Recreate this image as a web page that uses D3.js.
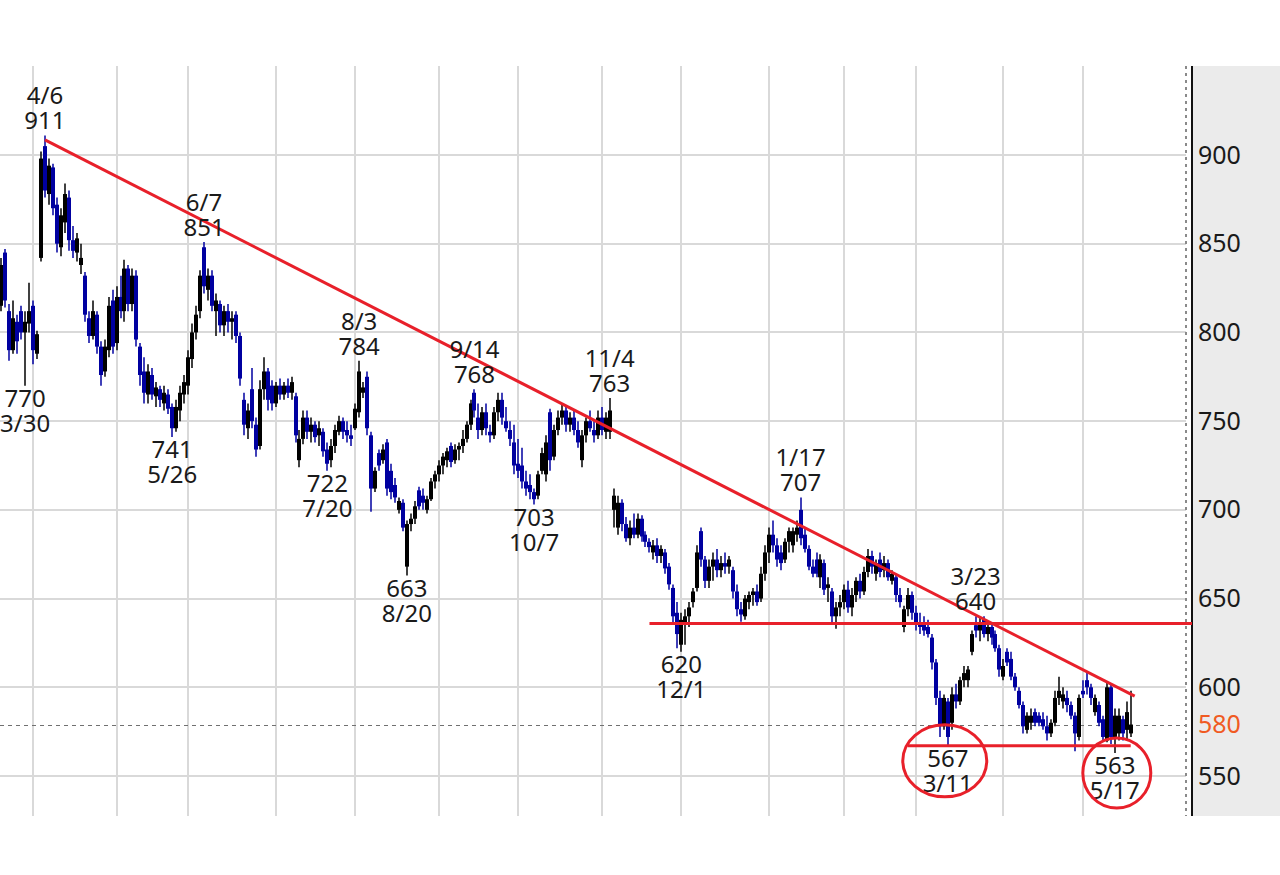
<!DOCTYPE html>
<html><head><meta charset="utf-8">
<script src="https://cdn.jsdelivr.net/npm/d3@7"></script>
<style>body{margin:0;background:#fff}svg{display:block}</style>
</head><body>
<svg id="chart" width="1280" height="875"></svg>
<script>
// ---------- data ----------
const firstDay = "2021-03-22";
const lastCalendarDay = "2022-06-30";
const marketHolidays = ["2021-04-29","2021-05-03","2021-05-04","2021-05-05","2021-07-22","2021-07-23","2021-08-09","2021-09-20","2021-09-23","2021-11-03","2021-11-23","2021-12-31","2022-01-03","2022-01-10","2022-02-11","2022-02-23","2022-03-21","2022-04-29","2022-05-03","2022-05-04","2022-05-05"];

// [open, high, low, close] per trading day
const ohlcMar21 = [[815,842,812,838],[845,847,814,818],[812,816,784,790],[790,818,788,808],[806,810,788,795],[812,815,796,800],[800,812,770,806],[805,828,800,812]];
const ohlcApr21 = [[815,818,782,790],[788,801,785,799],[842,902,840,898],[905,911,876,880],[878,898,872,894],[893,895,866,870],[872,876,845,850],[848,870,843,866],[862,884,856,878],[876,880,846,852],[852,860,842,846],[845,856,840,853],[838,850,833,842],[832,834,806,810],[808,812,794,798],[798,818,796,812],[810,812,788,792],[792,795,770,776],[778,796,775,792],[790,820,786,815],[818,824,788,792]];
const ohlcMay21 = [[794,826,790,820],[820,832,808,812],[812,841,806,836],[836,838,812,816],[816,836,812,832],[832,835,792,796],[792,794,770,776],[778,786,760,766],[765,782,760,778],[776,780,762,765],[764,772,758,769],[768,770,758,762],[760,770,756,766],[765,768,754,757],[758,760,741,746],[746,762,744,758],[756,770,750,766],[765,776,760,772]];
const ohlcJun21 = [[770,790,765,786],[785,805,780,800],[800,815,796,810],[812,835,808,832],[848,851,822,826],[824,836,818,832],[832,835,812,815],[812,822,798,818],[816,818,800,804],[804,815,798,812],[812,816,800,806],[806,812,796,808],[810,812,794,798],[798,800,770,774],[762,766,742,748],[746,760,740,756],[768,780,746,750],[748,752,730,734],[736,773,734,768],[768,786,762,778],[778,780,756,762],[770,773,756,760]];
const ohlcJul21 = [[760,772,758,770],[770,774,762,765],[765,772,762,770],[770,774,763,766],[766,775,762,772],[764,766,738,742],[728,745,724,740],[740,756,737,752],[752,756,740,744],[744,752,738,748],[748,750,738,741],[742,750,736,746],[744,746,730,733],[734,738,722,726],[728,740,724,736],[736,748,732,745],[744,753,742,750],[750,752,740,744],[745,750,738,742],[742,748,736,740]];
const ohlcAug21 = [[746,760,745,757],[755,784,752,778],[766,772,763,769],[775,778,742,746],[742,744,699,712],[712,724,710,722],[732,734,722,725],[728,737,726,734],[738,740,708,712],[722,726,706,710],[714,718,704,707],[700,707,698,705],[704,706,688,690],[668,694,663,692],[692,698,688,695],[695,705,692,702],[711,713,700,702],[708,712,700,704],[700,708,698,706],[706,718,705,716],[716,722,712,720]];
const ohlcSep21 = [[720,728,716,725],[725,732,720,730],[728,735,724,733],[736,738,724,727],[728,737,726,734],[734,738,728,736],[736,745,732,740],[740,750,738,748],[748,762,745,760],[766,768,752,756],[752,760,740,745],[745,758,742,755],[755,760,742,746],[744,748,738,742],[742,758,740,755],[755,766,750,762],[762,766,748,752],[750,758,744,746],[745,750,736,740],[738,748,720,725]];
const ohlcOct21 = [[726,740,718,722],[725,735,712,716],[716,722,708,712],[714,720,706,710],[710,712,703,706],[708,722,706,720],[722,735,720,732],[720,742,716,738],[755,757,722,728],[730,748,728,745],[745,756,742,752],[752,760,748,756],[756,758,744,748],[748,755,744,752],[752,756,742,745],[745,750,735,738],[728,745,724,742],[742,752,738,750],[750,756,744,746],[745,750,738,742],[742,756,740,752]];
const ohlcNov21 = [[752,758,742,745],[744,755,740,752],[744,763,740,756],[700,712,690,708],[690,708,686,704],[704,706,688,692],[692,696,682,684],[684,694,680,690],[690,698,684,686],[686,698,684,695],[695,697,682,685],[686,688,679,682],[682,684,676,679],[676,683,672,680],[680,684,670,674],[674,680,670,678],[676,678,664,667],[668,670,655,658],[656,658,636,640],[642,648,622,630]];
const ohlcDec21 = [[624,642,620,638],[636,644,624,640],[640,648,634,645],[648,656,645,654],[656,680,654,676],[688,690,668,672],[672,674,656,660],[660,672,656,668],[668,676,660,672],[672,678,662,666],[666,674,662,670],[670,676,664,668],[668,674,664,672],[666,668,650,654],[654,658,640,644],[644,648,637,641],[640,652,638,650],[648,654,644,652],[652,656,646,654],[654,658,646,648],[650,668,648,664],[664,680,660,676]];
const ohlcJan22 = [[676,690,670,686],[686,694,676,680],[680,684,668,672],[676,680,666,670],[672,684,670,682],[682,690,676,688],[680,690,676,688],[686,694,682,690],[700,707,680,684],[686,690,676,678],[678,680,666,668],[668,672,662,664],[672,676,662,664],[662,675,656,672],[670,672,652,655],[656,662,648,658],[654,656,636,640],[640,648,633,645],[645,652,640,648]];
const ohlcFeb22 = [[648,658,644,655],[655,660,642,645],[645,656,640,652],[652,662,648,660],[660,664,650,654],[654,668,652,665],[665,678,662,674],[674,677,664,668],[664,672,660,670],[672,676,662,665],[666,674,662,670],[670,672,660,662],[660,666,658,664],[662,664,648,652],[652,656,645,648],[634,646,631,644],[644,656,640,652],[652,654,638,642]];
const ohlcMar22 = [[642,646,632,636],[636,642,630,634],[636,640,629,632],[634,638,628,630],[628,630,610,614],[614,616,590,594],[594,598,572,578],[578,596,576,594],[592,594,567,572],[580,600,576,596],[596,602,588,592],[592,606,590,604],[604,612,600,608],[604,612,600,610],[620,632,618,630],[635,640,628,632],[632,640,626,636],[638,640,628,630],[630,636,626,634],[634,636,624,628],[630,632,620,622],[622,624,606,610]];
const ohlcApr22 = [[606,616,604,612],[620,622,612,614],[616,620,604,606],[606,608,598,600],[598,600,588,590],[590,592,574,578],[576,586,574,584],[580,588,576,584],[586,588,578,580],[584,586,578,580],[582,586,576,578],[578,584,570,574],[574,582,572,580],[580,598,578,594],[594,606,590,598],[592,600,588,596],[594,598,586,590],[590,592,582,584],[584,586,564,574],[572,596,570,594]];
const ohlcMay22 = [[598,604,594,596],[604,608,596,600],[600,602,590,594],[586,596,584,594],[590,592,578,580],[582,584,570,572],[570,603,569,600],[600,602,568,572],[572,588,563,584],[574,588,570,584],[582,584,570,574],[576,592,570,586],[574,598,572,579]];

const priceTicks = [550, 600, 650, 700, 750, 800, 850, 900];
const currentPrice = 579;
const currentPriceLabel = "580";

// peaks / troughs labelled on the chart
const highMarks = [["2021-04-06",911],["2021-06-07",851],["2021-08-03",784],["2021-09-14",768],["2021-11-04",763],["2022-01-17",707],["2022-03-23",640]];
const lowMarks  = [["2021-03-30",770],["2021-05-26",741],["2021-07-20",722],["2021-08-20",663],["2021-10-07",703],["2021-12-01",620],["2022-03-11",567],["2022-05-17",563]];

// drawn lines: [startDate, startValue, endDate, endValue]
const trendLine      = ["2021-04-06", 908.5, "2022-05-24", 595];
const resistanceLine = ["2021-11-18", 636, null, 636];
const supportLine    = ["2022-02-25", 567, "2022-05-23", 567];
const circledLows    = ["2022-03-11", "2022-05-17"];

// ---------- layout ----------
const W = 1280, H = 875;
const plot = {left: 0, right: 1186, top: 66, bottom: 816};
const axisX = 1192;
const svg = d3.select("#chart");
const fmt = d3.timeFormat("%Y-%m-%d");
const parse = d3.timeParse("%Y-%m-%d");
const mdFmt = d3.timeFormat("%-m/%-d");

const holidaySet = new Set(marketHolidays);
const tradingDays = d3.timeDay.range(parse(firstDay), parse(lastCalendarDay))
  .filter(d => d.getDay() !== 0 && d.getDay() !== 6 && !holidaySet.has(fmt(d)));
const dayIndex = new Map(tradingDays.map((d, i) => [fmt(d), i]));

const ohlc = [].concat(ohlcMar21, ohlcApr21, ohlcMay21, ohlcJun21, ohlcJul21, ohlcAug21, ohlcSep21, ohlcOct21, ohlcNov21, ohlcDec21, ohlcJan22, ohlcFeb22, ohlcMar22, ohlcApr22, ohlcMay22);
const candles = ohlc.map((v, i) => ({date: tradingDays[i], i, o: v[0], h: v[1], l: v[2], c: v[3]}));
const lastIdx = candles.length - 1;

const x = d3.scaleLinear().domain([-0.3, 297.9]).range([plot.left, plot.right]);
const y = d3.scaleLinear().domain([550, 900]).range([776, 155]);
const xd = s => x(dayIndex.get(s));

const FONT = "'Noto Sans', 'DejaVu Sans', sans-serif";
const RED = "#e8202a";

svg.append("rect").attr("width", W).attr("height", H).attr("fill", "#fff");

// grid
const monthStarts = tradingDays.filter((d, i) => i > 0 && i <= lastIdx && d.getMonth() !== tradingDays[i-1].getMonth())
  .map(d => dayIndex.get(fmt(d))).filter(i => x(i) > plot.left && x(i) < plot.right);
const grid = svg.append("g").attr("stroke", "#d9d9d9").attr("stroke-width", 2);
grid.selectAll("line.v").data(monthStarts).join("line")
  .attr("x1", d => Math.round(x(d))).attr("x2", d => Math.round(x(d)))
  .attr("y1", plot.top).attr("y2", plot.bottom);
grid.selectAll("line.h").data(priceTicks).join("line")
  .attr("x1", plot.left).attr("x2", plot.right)
  .attr("y1", d => Math.round(y(d))).attr("y2", d => Math.round(y(d)));

// current price dashed line
svg.append("line").attr("x1", plot.left).attr("x2", plot.right)
  .attr("y1", Math.round(y(currentPrice)) + 0.5).attr("y2", Math.round(y(currentPrice)) + 0.5)
  .attr("stroke", "#707070").attr("stroke-width", 1.2).attr("stroke-dasharray", "4,4");

// axis panel
svg.append("rect").attr("x", axisX + 1).attr("y", plot.top).attr("width", W - axisX - 1)
  .attr("height", plot.bottom - plot.top).attr("fill", "#ebebeb");
svg.append("line").attr("x1", axisX).attr("x2", axisX).attr("y1", plot.top).attr("y2", plot.bottom)
  .attr("stroke", "#111").attr("stroke-width", 2);
svg.append("line").attr("x1", plot.right).attr("x2", plot.right).attr("y1", plot.top).attr("y2", plot.bottom)
  .attr("stroke", "#8a8a8a").attr("stroke-width", 2).attr("stroke-dasharray", "3,4");

const yAxis = d3.axisRight(y).tickValues(priceTicks).tickSize(0).tickPadding(6);
const ag = svg.append("g").attr("transform", `translate(${axisX},0)`).call(yAxis);
ag.select(".domain").remove();
ag.selectAll("text").attr("font-family", FONT).attr("font-size", 25).attr("fill", "#1a1a1a");
svg.append("text").attr("x", axisX + 6).attr("y", y(currentPrice)).attr("dy", "0.32em")
  .attr("font-family", FONT).attr("font-size", 25).attr("fill", "#f05a22").text(currentPriceLabel);

// candles
const UP = "#000000", DOWN = "#0000a0";
const cg = svg.append("g");
const cs = cg.selectAll("g").data(candles).join("g")
  .attr("fill", d => d.c >= d.o ? UP : DOWN).attr("stroke", d => d.c >= d.o ? UP : DOWN);
cs.append("line")
  .attr("x1", d => Math.round(x(d.i))).attr("x2", d => Math.round(x(d.i)))
  .attr("y1", d => y(d.h)).attr("y2", d => y(d.l)).attr("stroke-width", 1.5);
cs.append("rect")
  .attr("stroke", "none")
  .attr("x", d => Math.round(x(d.i)) - 2).attr("width", 4)
  .attr("y", d => y(Math.max(d.o, d.c)))
  .attr("height", d => Math.max(1.5, Math.abs(y(d.o) - y(d.c))));

// red annotation lines
function drawLine(l, endX) {
  svg.append("line")
    .attr("x1", xd(l[0])).attr("y1", y(l[1]))
    .attr("x2", l[2] ? xd(l[2]) : endX).attr("y2", y(l[3]))
    .attr("stroke", RED).attr("stroke-width", 3).attr("stroke-linecap", "butt");
}
drawLine(trendLine);
drawLine(resistanceLine, axisX);
drawLine(supportLine);

// labels
const lab = svg.append("g").attr("font-family", FONT).attr("font-size", 24)
  .attr("fill", "#1a1a1a").attr("text-anchor", "middle");
highMarks.forEach(([d, v]) => {
  const cx = xd(d), cy = y(v);
  lab.append("text").attr("x", cx).attr("y", cy - 31).text(mdFmt(parse(d)));
  lab.append("text").attr("x", cx).attr("y", cy - 6).text(v);
});
lowMarks.forEach(([d, v]) => {
  const cx = xd(d), cy = y(v);
  lab.append("text").attr("x", cx).attr("y", cy + 21).text(v);
  lab.append("text").attr("x", cx).attr("y", cy + 46).text(mdFmt(parse(d)));
});

// circles around the two latest lows
const circleShape = [{dx: -3, dy: 15, rx: 42, ry: 36}, {dx: 2, dy: 20, rx: 34, ry: 35}];
circledLows.forEach((d, k) => {
  const v = lowMarks.find(m => m[0] === d)[1];
  const s = circleShape[k];
  svg.append("ellipse").attr("cx", xd(d) + s.dx).attr("cy", y(v) + s.dy)
    .attr("rx", s.rx).attr("ry", s.ry)
    .attr("fill", "none").attr("stroke", RED).attr("stroke-width", 3);
});
</script>
</body></html>
